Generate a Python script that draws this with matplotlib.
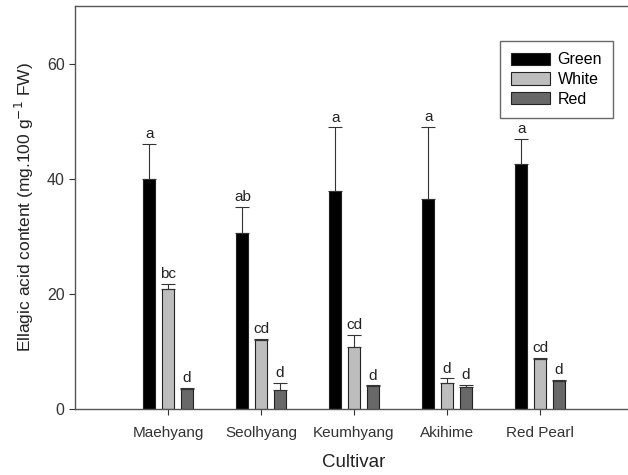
import matplotlib.pyplot as plt
import numpy as np

plt.rcParams['font.family'] = ['Liberation Sans', 'DejaVu Sans']

cultivars = ['Maehyang', 'Seolhyang', 'Keumhyang', 'Akihime', 'Red Pearl']
green = [40.0, 30.6, 37.9, 36.5, 42.6]
green_err = [6.1, 4.5, 11.0, 12.5, 4.3]
white = [20.9, 12.0, 10.8, 4.6, 8.7]
white_err = [0.8, 0.1, 2.1, 0.7, 0.1]
red = [3.5, 3.3, 4.0, 3.9, 4.9]
red_err = [0.1, 1.2, 0.1, 0.3, 0.1]
green_let = ['a', 'ab', 'a', 'a', 'a']
white_let = ['bc', 'cd', 'cd', 'd', 'cd']
red_let = ['d', 'd', 'd', 'd', 'd']

fig = plt.figure(figsize=(6.28, 4.75), dpi=100)
ax = fig.add_axes([75/628, 66/475, 558/628, 403/475])

x = np.arange(1, len(cultivars) + 1)
w = 0.13
off = 0.2
series = [
    (green, green_err, green_let, 'black', 'Green', -off),
    (white, white_err, white_let, '#bdbdbd', 'White', 0),
    (red, red_err, red_let, '#686868', 'Red', off),
]
for vals, errs, lets, col, lab, dx in series:
    ax.bar(x + dx, vals, w, color=col, edgecolor='#222222', linewidth=0.8, label=lab)
    ax.errorbar(x + dx, vals, yerr=[np.zeros(len(vals)), errs], fmt='none',
                ecolor='#333333', elinewidth=0.8, capsize=5, capthick=0.8)
    for xi, v, e, t in zip(x + dx, vals, errs, lets):
        ax.text(xi, v + e + 0.5, t, ha='center', va='bottom', fontsize=11, color='#222222')

ax.set_xlim(0, 6)
ax.set_ylim(0, 70)
ax.set_xticks(x)
ax.set_xticklabels(cultivars, fontsize=11, color='#222222')
ax.set_yticks([0, 20, 40, 60])
ax.tick_params(axis='y', labelsize=11.5, colors='#333333', direction='out', length=4)
ax.tick_params(axis='x', colors='#333333', direction='out', length=4, pad=8)
for s in ['left', 'bottom', 'top']:
    ax.spines[s].set_color('#555555')
    ax.spines[s].set_linewidth(1.0)
ax.spines['right'].set_visible(False)

ax.set_ylabel('Ellagic acid content (mg.100 g$^{-1}$ FW)', fontsize=12.5, color='#222222', labelpad=8)
ax.set_xlabel('Cultivar', fontsize=13.5, color='#222222', labelpad=10)

leg = ax.legend(loc='upper left', bbox_to_anchor=(425/558, 1 - 35/403), borderaxespad=0,
                fontsize=11.5, frameon=True, fancybox=False, edgecolor='#444444',
                handlelength=2.4, handleheight=0.8, borderpad=0.7, labelspacing=0.3,
                handletextpad=0.5)
leg.get_frame().set_linewidth(1.0)

fig.savefig('out.png', dpi=100)
